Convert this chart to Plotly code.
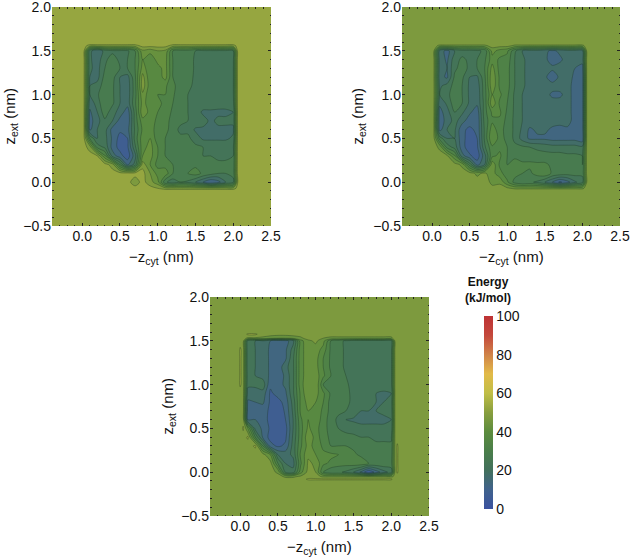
import plotly.graph_objects as go

# node positions of the hand-read energy maps
X_AB = [0.02,0.1,0.2,0.3,0.4,0.5,0.6,0.7,0.8,0.9,1.0,1.1,1.2,1.3,1.4,1.5,1.6,1.7,1.8,1.9,2.0,2.06]
Y_AB = [1.56,1.5,1.4,1.3,1.2,1.1,1.0,0.9,0.8,0.7,0.6,0.5,0.4,0.3,0.2,0.1,0.0,-0.07]
X_C = [-0.03,0.0,0.04,0.1,0.2,0.3,0.4,0.5,0.6,0.7,0.8,0.9,1.0,1.1,1.2,1.3,1.4,1.5,1.6,1.7,1.8,1.9,2.0,2.05,2.08,2.11]
Y_C = [1.6,1.575,1.53,1.5,1.4,1.3,1.2,1.1,1.0,0.9,0.8,0.7,0.6,0.5,0.4,0.3,0.2,0.1,0.0,-0.05,-0.08,-0.11]

BG_A = 52
BG_B = 47
BG_C = 47

ENERGY_A = [
[52,48,48,48,48,48,48,48,52,52,52,52,48,48,48,48,48,48,48,48,48,52],
[52,22,15,22,24,24,24,30,44,42,45,44,30,28,28,25,24,24,24,24,25,52],
[52,21,17,24,27,24,25,30,40,36,42,42,30,28,28,24,23,23,23,23,24,52],
[52,21,18,25,28,25,25,30,42,37,38,42,30,28,28,24,23,23,23,23,24,52],
[52,20,18,27,27,20,18,29,47,36,37,42,30,28,27,24,23,23,23,23,24,52],
[52,20,22,28,26,20,17,28,48,37,36,36,31,28,26,24,23,23,23,23,24,52],
[52,20,24,30,26,20,17,28,44,36,35,35,31,26,25,24,23,23,23,23,24,52],
[52,17,22,30,26,20,17,29,42,37,36,34,30,26,25,24,23,23,22,22,23,52],
[52,14,20,28,22,18,12,27,44,38,35,33,29,26,25,23,19,19,19,19,20,52],
[52,13,18,24,20,13,11,27,38,37,34,32,28,26,25,24,22,19,21,21,21,52],
[52,14,20,22,13,11,13,26,36,37,33,32,27,24,24,19,19,19,19,19,19,52],
[52,30,20,22,14,8,10,27,38,40,32,30,28,26,26,23,19,19,19,19,21,52],
[52,48,28,24,13,8,9,24,38,42,35,30,28,27,27,26,25,24,24,24,24,52],
[52,52,50,36,18,12,7,18,40,42,35,30,28,27,27,26,25,25,24,24,25,52],
[52,52,52,52,48,30,14,22,48,40,33,33,30,30,28,29,26,26,26,26,26,52],
[52,52,52,52,52,52,52,52,52,45,38,38,30,28,30,32,29,27,25,25,26,52],
[52,52,52,52,52,52,52,47,52,47,42,26,22,25,24,20,15,10,13,20,24,50],
[52,52,52,52,52,52,52,52,52,52,50,47,47,47,47,47,47,47,47,47,47,52],
]

ENERGY_B = [
[47,44,44,44,44,44,44,44,47,47,47,44,44,44,44,44,44,44,44,44,44,47],
[47,18,13,20,23,23,24,26,42,38,36,26,20,18,18,16,14,16,18,18,18,47],
[47,18,14,23,26,24,25,29,38,34,33,25,21,18,17,16,13,14,17,16,17,47],
[47,18,15,24,27,24,25,30,42,33,32,25,21,18,17,17,16,17,17,15,13,47],
[47,17,14,26,26,20,19,29,44,34,32,25,21,18,17,16,12,16,17,14,12,47],
[47,19,22,27,25,19,17,28,44,34,32,25,21,18,17,17,17,17,17,13,12,47],
[47,20,23,29,25,19,16,28,40,36,31,24,20,18,17,17,14,14,17,13,12,47],
[47,16,21,28,25,19,16,27,44,34,30,24,20,18,17,17,17,17,17,13,12,47],
[47,13,18,25,21,16,12,28,36,36,29,24,20,18,17,17,17,17,17,13,12,47],
[47,12,17,22,17,12,11,27,34,34,28,24,20,18,17,17,17,17,17,13,12,47],
[47,13,20,21,11,9,11,26,38,32,28,24,19,14,16,16,14,13,14,13,12,47],
[47,28,20,20,12,7,10,26,40,33,28,24,18,14,14,14,13,13,13,13,11,47],
[47,44,28,23,12,7,9,24,34,34,30,26,26,25,24,23,22,22,22,22,21,47],
[47,47,46,36,17,11,7,18,34,36,30,29,28,28,27,27,27,27,26,26,25,47],
[47,47,47,47,44,28,13,20,44,34,30,32,31,31,31,31,29,28,28,28,25,47],
[47,47,47,47,47,47,44,46,42,37,32,32,30,29,32,34,29,28,27,27,26,47],
[47,47,47,47,47,47,47,47,44,44,36,28,25,26,24,20,15,9,13,19,23,46],
[47,47,47,47,47,47,47,47,46,47,46,44,44,44,44,44,44,44,44,44,44,47],
]

ENERGY_C = [
[47,47,47,47,47,47,47,47,47,47,47,47,47,47,47,47,47,47,47,47,47,47,47,47,47,47],
[47,47,47,51,51,47,47,47,47,47,47,47,47,47,47,47,47,47,47,47,47,47,47,47,47,47],
[47,47,47,44,44,44,42,40,40,42,44,47,47,45,44,44,44,44,44,44,44,44,44,47,47,47],
[47,47,47,22,20,20,15,12,13,18,38,44,46,42,30,27,24,22,22,22,22,22,22,46,47,47],
[47,51,47,21,20,18,14,12,14,22,38,43,43,38,29,27,24,23,23,23,23,23,23,46,47,47],
[47,51,47,21,20,18,14,12,14,24,38,43,42,35,29,27,24,23,23,23,23,23,23,46,47,47],
[47,51,47,21,20,18,14,12,18,24,38,43,42,35,29,27,24,23,23,23,23,23,23,46,47,47],
[47,51,47,22,20,18,14,12,16,24,38,43,43,36,30,27,25,23,23,23,23,23,23,46,47,47],
[47,51,47,21,21,23,11,13,16,24,38,44,45,30,30,28,26,23,23,23,23,23,23,46,47,47],
[47,47,47,18,18,18,9,12,14,24,36,45,42,36,29,27,26,24,23,23,20,19,20,46,47,47],
[47,47,47,14,15,16,9,8,12,22,36,42,40,35,28,27,26,24,24,24,20,20,22,46,47,47],
[47,47,47,13,14,12,9,6,11,21,36,40,38,34,28,26,25,24,20,20,20,21,21,46,47,47],
[47,47,47,14,15,13,8,5,10,20,34,40,38,33,27,24,20,19,19,19,19,19,20,46,47,47],
[47,47,51,40,18,14,9,7,8,20,33,41,37,32,28,25,24,23,21,21,21,21,21,46,47,47],
[47,47,47,51,30,14,8,6,9,21,33,44,38,32,29,27,26,26,25,25,24,24,24,46,47,47],
[47,47,47,47,51,30,12,9,11,22,34,42,38,34,30,30,30,29,27,27,26,26,26,46,51,47],
[47,47,47,47,47,47,40,20,18,21,36,44,40,36,36,35,33,31,29,28,27,27,27,46,51,47],
[47,47,47,47,47,47,47,30,20,18,34,46,44,36,34,32,32,33,33,30,29,29,28,46,51,47],
[47,47,47,47,47,47,47,44,24,22,38,47,45,30,26,26,24,20,14,5,12,18,22,46,51,47],
[47,47,47,47,47,47,47,47,44,44,46,47,47,44,44,44,44,44,44,44,44,44,44,46,47,47],
[47,47,47,47,47,47,47,47,47,47,47,51,51,51,51,51,51,51,51,51,51,51,51,47,47,47],
[47,47,47,47,47,47,47,47,47,47,47,47,47,47,47,47,47,47,47,47,47,47,47,47,47,47],
]

X_RANGE = [-0.4, 2.5]
Y_RANGE = [-0.5, 2.0]
COLORBAR_VALUES = [0, 100]
COLORBAR_TICKS = [0, 20, 40, 60, 80, 100]
X_TITLE = "\u2212z<sub>cyt</sub> (nm)"
Y_TITLE = "z<sub>ext</sub> (nm)"

COLORSCALE = [
    [0.00, "rgb(58,82,160)"], [0.10, "rgb(64,98,140)"], [0.20, "rgb(66,112,92)"],
    [0.30, "rgb(74,126,74)"], [0.40, "rgb(92,140,62)"], [0.50, "rgb(136,158,62)"],
    [0.60, "rgb(192,190,70)"], [0.70, "rgb(226,186,72)"], [0.80, "rgb(208,130,72)"],
    [0.90, "rgb(196,72,60)"], [1.00, "rgb(190,50,52)"],
]
W, H = 630, 558
# l, r, t, b, title x-position, title y-position
PANELS = [
    (52, 271, 7, 226, 10, 257, X_AB, Y_AB, ENERGY_A, BG_A),
    (402, 620, 7, 226, 358, 257, X_AB, Y_AB, ENERGY_B, BG_B),
    (210, 429, 297, 516, 168, 547, X_C, Y_C, ENERGY_C, BG_C),
]
FONT = "Liberation Sans, Arial, sans-serif"
INK = "#111111"


def padded(xs, ys, z, bg):
    px = [X_RANGE[0]] + xs + [X_RANGE[1]]
    py = [Y_RANGE[0], ys[-1] - 0.02] + ys[::-1] + [ys[0] + 0.02, Y_RANGE[1]]
    rows = [[bg] * len(px), [bg] * len(px)]
    for r in z[::-1]:
        rows.append([bg] + r + [bg])
    rows += [[bg] * len(px), [bg] * len(px)]
    return px, py, rows


fig = go.Figure()
layout = {}
CENTER = dict(xref="paper", yref="paper", xanchor="center", yanchor="middle", showarrow=False)
notes = [dict(
    CENTER, text="<b>Energy<br>(kJ/mol)</b>", x=488 / W, y=1 - 290 / H,
    font=dict(family=FONT, size=12, color=INK), align="center",
)]
for i, (l, r, t, b, ty_x, tx_y, xs, ys, z, bg) in enumerate(PANELS):
    sfx = "" if i == 0 else str(i + 1)
    px, py, rows = padded(xs, ys, z, bg)
    fig.add_trace(go.Contour(
        x=px, y=py, z=rows, xaxis="x" + sfx, yaxis="y" + sfx,
        zmin=0, zmax=100, colorscale=COLORSCALE, showscale=False,
        contours=dict(start=0, end=100, size=5, coloring="fill"),
        line=dict(color="rgba(25,50,30,0.55)", width=0.6, smoothing=0.8),
        hoverinfo="skip",
    ))
    common = dict(
        dtick=0.5, tick0=0, tickformat=".1f", ticks="inside", ticklen=3, tickwidth=1,
        tickcolor="#222", mirror="ticks", showgrid=False, zeroline=False, showline=False,
        automargin=False, ticklabeloverflow="allow",
        minor=dict(dtick=0.1, tick0=0, ticks="inside", ticklen=1.5, tickwidth=1, tickcolor="#222", showgrid=False),
        tickfont=dict(family=FONT, size=14, color=INK),
    )
    layout["xaxis" + sfx] = dict(common, domain=[l / W, r / W], range=X_RANGE, anchor="y" + sfx)
    layout["yaxis" + sfx] = dict(common, domain=[1 - b / H, 1 - t / H], range=Y_RANGE, anchor="x" + sfx)
    notes.append(dict(CENTER, text=X_TITLE, x=(l + r) / 2 / W, y=1 - tx_y / H,
                      font=dict(family=FONT, size=15, color=INK)))
    notes.append(dict(CENTER, text=Y_TITLE, x=ty_x / W, y=1 - (t + b) / 2 / H, textangle=-90,
                      font=dict(family=FONT, size=15, color=INK)))

fig.add_trace(go.Scatter(
    x=[None, None], y=[None, None], mode="markers", showlegend=False, hoverinfo="skip",
    marker=dict(
        color=COLORBAR_VALUES, cmin=0, cmax=100, colorscale=COLORSCALE, showscale=True,
        colorbar=dict(
            x=484 / W, xanchor="left", y=1 - 509 / H, yanchor="bottom",
            lenmode="pixels", len=193, thicknessmode="pixels", thickness=9,
            xpad=0, ypad=0, outlinewidth=0, ticks="", tickvals=COLORBAR_TICKS, ticklabelposition="outside",
            tickfont=dict(family=FONT, size=14, color=INK),
        ),
    ),
))

fig.update_layout(
    width=W, height=H, margin=dict(l=0, r=0, t=0, b=0, autoexpand=False),
    paper_bgcolor="white", plot_bgcolor="white", showlegend=False,
    annotations=notes,
    **layout,
)
fig.write_html("out.html", config=dict(displayModeBar=False),
               post_script="document.body.style.margin='0';")
